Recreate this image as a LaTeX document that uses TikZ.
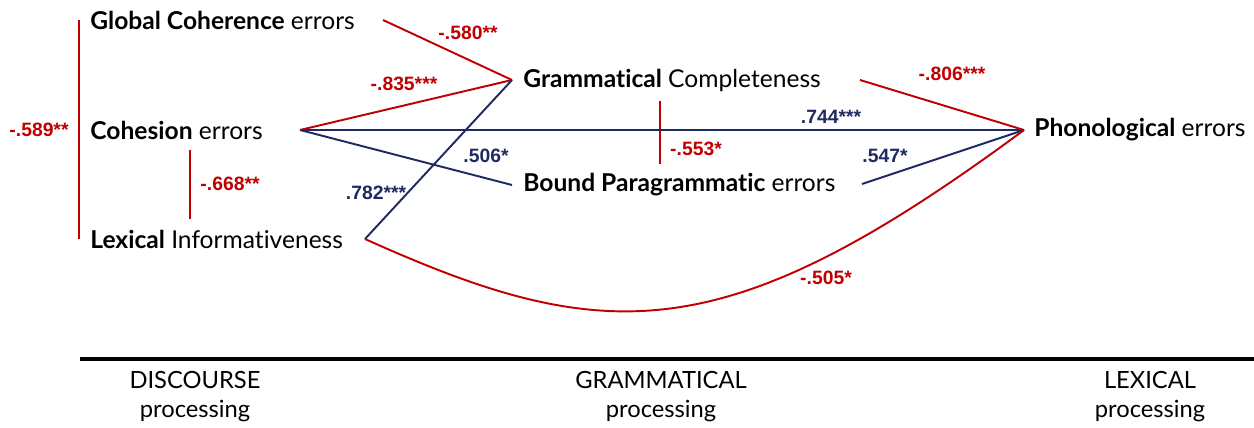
\documentclass[tikz,border=0pt]{standalone}
\usepackage{fontspec}
\setmainfont{Lato}[Ligatures={NoCommon}]
\newfontfamily\corrfont{Liberation Sans}
\usetikzlibrary{positioning, calc}
\definecolor{CorrRed}{HTML}{C00000}
\definecolor{CorrBlue}{HTML}{1F2A60}
\tikzset{
    % Measure nodes
    measure/.style={
        anchor=west,
        inner sep=0pt,
        font=\fontsize{14}{16}\selectfont
    },
    levelname/.style={
        align=center,
        inner sep=0pt,
        font=\fontsize{13.5}{16.5}\selectfont
    },
    % Correlation links
    poslink/.style={
        draw=CorrBlue,
        line width=1.1pt
    },
    neglink/.style={
        draw=CorrRed,
        line width=1.1pt
    },
    poslabel/.style={
        inner sep=0pt,
        text=CorrBlue,
        font=\corrfont\bfseries\fontsize{11}{13}\selectfont
    },
    neglabel/.style={
        inner sep=0pt,
        text=CorrRed,
        font=\corrfont\bfseries\fontsize{11}{13}\selectfont
    }
}

\begin{document}
\begin{tikzpicture}[x=0.02cm, y=-0.02cm]
    \useasboundingbox (0,0) rectangle (1254,428);

    % Discourse measures
    \node[measure] (glob) at (90,20) {\textbf{Global Coherence} errors};
    \node[measure] (coh) at (90,130) {\textbf{Cohesion} errors};
    \node[measure] (lex) at (90,239) {\textbf{Lexical} Informativeness};

    % Grammatical measures
    \node[measure] (gram) at (523,80) {\textbf{Grammatical} Completeness};
    \node[measure] (bound) at (523,185) {\textbf{Bound Paragrammatic} errors};

    % Lexical measure
    \node[measure] (phon) at (1034,130) {\textbf{Phonological} errors};

    % Connector ends
    \coordinate (glob-out) at (383,20);
    \coordinate (coh-out) at (300,130);
    \coordinate (lex-out) at (365,239);
    \coordinate (gram-in) at (512,80);
    \coordinate (gram-out) at (860,80);
    \coordinate (bound-in) at (512,185);
    \coordinate (bound-out) at (862,184);
    \coordinate (phon-in) at (1024,130);

    % Brackets
    \coordinate (br1-top) at (79,20);
    \coordinate (br1-bot) at (79,239);
    \coordinate (br2-top) at (190,150);
    \coordinate (br2-bot) at (190,219);
    \coordinate (br3-top) at (660,101);
    \coordinate (br3-bot) at (660,164);
    \draw[neglink] (br1-top) -- (br1-bot);
    \draw[neglink] (br2-top) -- (br2-bot);
    \draw[neglink] (br3-top) -- (br3-bot);

    % Links
    \draw[neglink] (glob-out) -- (gram-in);
    \draw[neglink] (coh-out) -- (gram-in);
    \draw[poslink] (coh-out) -- (phon-in);
    \draw[poslink] (coh-out) -- (bound-in);
    \draw[poslink] (lex-out) -- (gram-in);
    \draw[neglink] (gram-out) -- (phon-in);
    \draw[poslink] (bound-out) -- (phon-in);
    \draw[neglink] (lex-out) .. controls (605,347) and (724,352) .. (phon-in);

    % Coefficients
    \node[neglabel] (r-glob-lex) at (39,130) {-.589**};
    \node[neglabel] (r-coh-lex) at (230,184) {-.668**};
    \node[poslabel] (r-lex-gram) at (376,193) {.782***};
    \node[neglabel] (r-coh-gram) at (404,84) {-.835***};
    \node[neglabel] (r-glob-gram) at (468,33) {-.580**};
    \node[poslabel] (r-coh-bound) at (486,156) {.506*};
    \node[neglabel] (r-gram-bound) at (696,149) {-.553*};
    \node[poslabel] (r-coh-phon) at (831,117) {.744***};
    \node[neglabel] (r-gram-phon) at (952,74) {-.806***};
    \node[poslabel] (r-bound-phon) at (885,156) {.547*};
    \node[neglabel] (r-lex-phon) at (826,278) {-.505*};

    % Processing levels
    \coordinate (axis-l) at (80,359);
    \coordinate (axis-r) at (1254,359);
    \draw[line width=2.4pt] (axis-l) -- (axis-r);
    \node[levelname] (disc) at (195,397) {DISCOURSE\\processing};
    \node[levelname] (gramlev) at (661,397) {GRAMMATICAL\\processing};
    \node[levelname] (lexlev) at (1150,397) {LEXICAL\\processing};
\end{tikzpicture}
\end{document}
